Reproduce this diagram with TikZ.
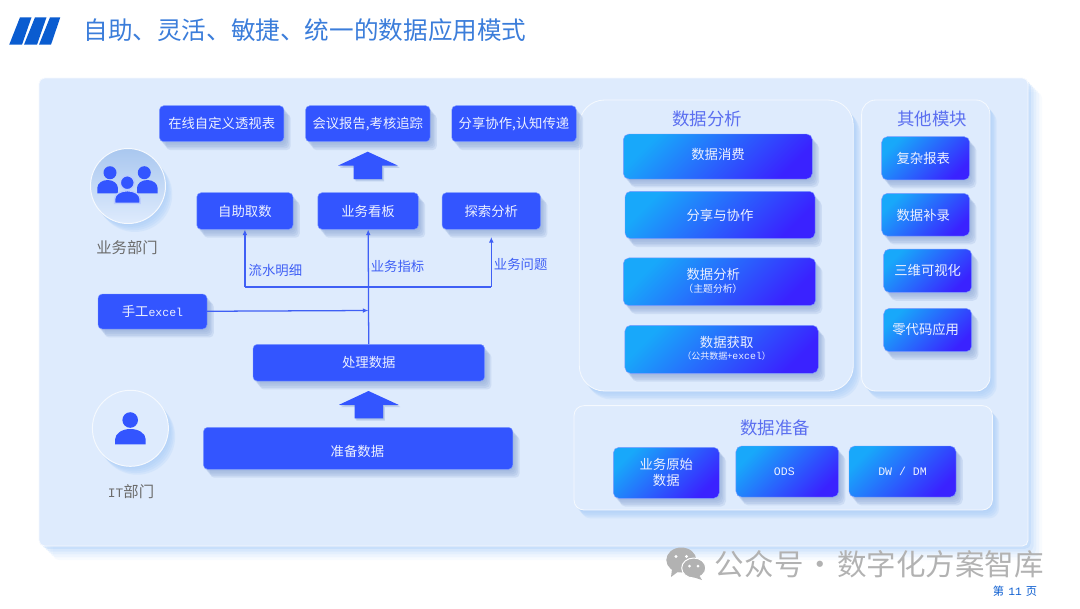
\documentclass[tikz,border=0pt]{standalone}
\usepackage{fontspec}
\setmainfont{Noto Sans CJK SC}
\setmonofont{Liberation Mono}
\usetikzlibrary{arrows.meta,shadows}
\newlength\px
\setlength\px{0.025cm}
\newcommand{\monotext}[1]{{\fontsize{8.2}{9}\selectfont\ttfamily #1}}

\begin{document}
\begin{tikzpicture}[x=\px,y=-\px,
    boxfont/.style={font=\fontsize{9.5}{11.5}\selectfont},
    softshadow/.style={
      general shadow={fill=#1,opacity=.22,shadow xshift=0.8pt,shadow yshift=-1.2pt},
      general shadow={fill=#1,opacity=.22,shadow xshift=1.8pt,shadow yshift=-2.4pt},
      general shadow={fill=#1,opacity=.22,shadow xshift=2.8pt,shadow yshift=-3.6pt},
      general shadow={fill=#1,opacity=.22,shadow xshift=3.8pt,shadow yshift=-4.8pt},
      general shadow={fill=#1,opacity=.22,shadow xshift=4.8pt,shadow yshift=-6pt}},
    wideshadow/.style={
      general shadow={fill=#1,opacity=.3,shadow xshift=2pt,shadow yshift=-2pt},
      general shadow={fill=#1,opacity=.22,shadow xshift=4pt,shadow yshift=-4pt},
      general shadow={fill=#1,opacity=.16,shadow xshift=6pt,shadow yshift=-6pt},
      general shadow={fill=#1,opacity=.12,shadow xshift=8pt,shadow yshift=-8pt},
      general shadow={fill=#1,opacity=.08,shadow xshift=10pt,shadow yshift=-10pt}},
    flatbox/.style={boxfont,text=boxtext,softshadow=shadowblue,fill=boxblue,draw=boxedge,line width=0.3pt,rounded corners=3pt,inner sep=0pt},
    gradbox/.style={boxfont,text=boxtext,softshadow=shadowblue,top color=grad1,bottom color=grad2,shading angle=45,draw=boxedge,line width=0.3pt,rounded corners=4pt,inner sep=0pt},
    boxlabel/.style={boxfont,text=boxtext,inner sep=0pt},
    sublabel/.style={font=\fontsize{7}{8}\selectfont,text=boxtext,inner sep=0pt},
    panel/.style={fill=panelblue,draw=white!70!panelblue,line width=0.6pt,inner sep=0pt},
    paneltitle/.style={font=\fontsize{12.4}{14}\selectfont,text=titleblue,inner sep=0pt},
    flowlabel/.style={boxfont,text=linkblue,inner sep=0pt},
    flow/.style={linkblue,line width=0.9pt},
    flowtip/.style={flow,-{Latex[length=1.4mm,width=1.2mm]}},
    partlabel/.style={font=\fontsize{10.9}{13}\selectfont,text=black!58,inner sep=0pt},
    role/.style={softshadow=panelshadow,circle,minimum size=75\px,inner sep=0pt,draw=white!70!panelblue,line width=0.7pt},
    bigarrow/.style={general shadow={fill=shadowblue,opacity=.4,shadow xshift=0.7pt,shadow yshift=-0.8pt},general shadow={fill=shadowblue,opacity=.4,shadow xshift=1.4pt,shadow yshift=-1.6pt},fill=boxblue},
  ]
  \definecolor{boxblue}{HTML}{3355FF}
  \definecolor{boxedge}{HTML}{7F9BFF}
  \definecolor{boxtext}{HTML}{EDF1FF}
  \definecolor{grad1}{HTML}{18A8FA}
  \definecolor{grad2}{HTML}{3A22FF}
  \definecolor{panelblue}{HTML}{DEEBFD}
  \definecolor{panelshadow}{HTML}{A8CCF8}
  \definecolor{shadowblue}{HTML}{8FA9D6}
  \definecolor{titleblue}{HTML}{5B6FF0}
  \definecolor{linkblue}{HTML}{3F5FF5}
  \definecolor{headblue}{HTML}{0A5CD0}
  \definecolor{markgrey}{HTML}{B2B2B2}
  \definecolor{roletop}{HTML}{A9C7EF}

  \useasboundingbox (0,0) rectangle (1080,608);

  \fill[headblue] (9.2,44.7) -- (22,44.7) -- (31.5,17.3) -- (20,17.3) -- cycle;
  \fill[headblue] (24,44.7) -- (37,44.7) -- (46.5,17.3) -- (35,17.3) -- cycle;
  \fill[headblue] (39,44.7) -- (51,44.7) -- (60.3,17.3) -- (50,17.3) -- cycle;
  \node[font=\fontsize{17.5}{20}\selectfont,text=headblue!80!white,inner sep=0pt] (heading) at (305,30) {自助、灵活、敏捷、统一的数据应用模式};

  \node[panel,wideshadow=panelshadow,rounded corners=4pt,minimum width=989\px,minimum height=468\px] (mainpanel) at (533.5,312) {};
  \node[panel,softshadow=panelshadow,rounded corners=18pt,minimum width=274\px,minimum height=291\px] (analysispanel) at (716.3,245.5) {};
  \node[panel,softshadow=panelshadow,rounded corners=10pt,minimum width=128.3\px,minimum height=291\px] (otherpanel) at (925.8,245.5) {};
  \node[panel,softshadow=panelshadow,rounded corners=7pt,minimum width=418.3\px,minimum height=104.3\px] (preppanel) at (783.2,457.8) {};

  \node[paneltitle] (analysistitle) at (707.3,118.7) {数据分析};
  \node[paneltitle] (othertitle) at (932,118.7) {其他模块};
  \node[paneltitle] (preptitle) at (775,428.3) {数据准备};

  \node[flatbox,minimum width=124.5\px,minimum height=36\px] (pivot) at (221.7,123.7) {在线自定义透视表};
  \node[flatbox,minimum width=124.5\px,minimum height=36\px] (meeting) at (367.8,123.7) {会议报告,考核追踪};
  \node[flatbox,minimum width=124.5\px,minimum height=36\px] (sharing) at (514,123.7) {分享协作,认知传递};

  \node[flatbox,minimum width=96.2\px,minimum height=36.6\px] (selfserve) at (244.9,211) {自助取数};
  \node[flatbox,minimum width=100.6\px,minimum height=36.6\px] (board) at (368.1,211) {业务看板};
  \node[flatbox,minimum width=98.5\px,minimum height=36.6\px] (explore) at (491.3,211) {探索分析};

  \node[flatbox,minimum width=109\px,minimum height=35\px] (excel) at (152.5,311.5) {手工\monotext{excel}};
  \node[flatbox,minimum width=231.6\px,minimum height=36.7\px] (process) at (368.8,362.7) {处理数据};
  \node[flatbox,minimum width=309.3\px,minimum height=42\px] (prepare) at (358.1,448.3) {};
  \node[boxlabel] (preparetext) at (357.4,451) {准备数据};

  \foreach \ax/\ay in {367.7/151.7,368.5/391}
  {
    \fill[bigarrow] (\ax,\ay) -- ++(30,13.8) -- ++(-15.5,0) -- ++(0,13.5) -- ++(-28.5,0) -- ++(0,-13.5) -- ++(-15.5,0) -- cycle;
  }

  \coordinate (hubleft) at (244.9,287);
  \coordinate (hubright) at (491.3,287);
  \coordinate (exploretip) at (491.3,237);
  \coordinate (merge) at (368.4,310.5);
  \draw[flow] (hubleft) -- (hubright);
  \draw[flowtip] (hubleft) -- (selfserve);
  \draw[flowtip] (hubright) -- (exploretip);
  \draw[flowtip] (process) -- (board);
  \draw[flowtip] (excel) -- (merge);

  \node[flowlabel] (detaillabel) at (275.4,270.7) {流水明细};
  \node[flowlabel] (metriclabel) at (397.5,266) {业务指标};
  \node[flowlabel] (questionlabel) at (520.7,264.3) {业务问题};

  \node[role,top color=roletop,bottom color=panelblue,shading angle=0] (business) at (128,186) {};
  \node[partlabel] (businesslabel) at (127,248) {业务部门};
  \foreach \hx/\bx in {110/107.6,144.3/147.3}
  {
    \fill[boxblue] (\hx,172.7) circle[radius=6.5\px];
    \fill[boxblue] (\bx-10.3,193.3) -- ++(0,-5.3) arc[start angle=180,end angle=0,x radius=10.3\px,y radius=8\px] -- ++(0,5.3) -- cycle;
  }
  \draw[boxblue!20!panelblue,line width=1pt,fill=boxblue] (127.4,203.3) -- ++(-12.7,0) -- ++(0,-4.6) arc[start angle=180,end angle=0,x radius=12.7\px,y radius=8\px] -- ++(0,4.6) -- cycle;
  \draw[boxblue!20!panelblue,line width=1pt,fill=boxblue] (127.3,182.7) circle[radius=7\px];

  \node[role,fill=panelblue,minimum size=76\px] (itdept) at (130.4,428.3) {};
  \node[partlabel] (itlabel) at (131,492) {{\fontsize{9.2}{11}\selectfont\ttfamily IT}部门};
  \fill[boxblue] (130.2,420) circle[radius=7.8\px];
  \fill[boxblue] (115.2,444.3) -- ++(0,-5.3) arc[start angle=180,end angle=0,x radius=15.2\px,y radius=10\px] -- ++(0,5.3) -- cycle;

  \node[gradbox,minimum width=189\px,minimum height=45\px] (consume) at (717.8,156.5) {};
  \node[boxlabel] (consumetext) at (718,154) {数据消费};
  \node[gradbox,minimum width=190\px,minimum height=47.4\px] (collab) at (720,215) {分享与协作};
  \node[gradbox,minimum width=192.4\px,minimum height=47.7\px] (analyse) at (719.5,281.8) {};
  \node[boxlabel] (analysetext) at (713.3,274.3) {数据分析};
  \node[sublabel] (analysesub) at (713,289) {（主题分析）};
  \node[gradbox,minimum width=193.3\px,minimum height=48\px] (fetch) at (721.6,349.3) {};
  \node[boxlabel] (fetchtext) at (726.7,342.3) {数据获取};
  \node[sublabel,font=\fontsize{6.4}{7.5}\selectfont] (fetchsub) at (726.7,356.3) {（公共数据+{\fontsize{7}{8}\selectfont\ttfamily excel}）};

  \node[gradbox,minimum width=88\px,minimum height=43.3\px] (complex) at (925.7,158.3) {};
  \node[boxlabel] (complextext) at (923.3,158.3) {复杂报表};
  \node[gradbox,minimum width=88\px,minimum height=42.7\px] (supplement) at (925.7,214.7) {};
  \node[boxlabel] (supplementtext) at (923.3,215) {数据补录};
  \node[gradbox,minimum width=88\px,minimum height=43.3\px] (threed) at (927.7,270.7) {三维可视化};
  \node[gradbox,minimum width=88\px,minimum height=43.3\px] (lowcode) at (927.7,330) {};
  \node[boxlabel] (lowcodetext) at (925.7,329.3) {零代码应用};

  \node[gradbox,align=center,minimum width=106\px,minimum height=51\px] (rawdata) at (666.3,472.8) {业务原始\\数据};
  \node[gradbox,minimum width=102.7\px,minimum height=51\px] (ods) at (787.3,471.5) {};
  \node[boxlabel] (odstext) at (784.3,471.7) {\monotext{ODS}};
  \node[gradbox,minimum width=107\px,minimum height=51\px] (dwdm) at (902.5,471.5) {\monotext{DW / DM}};

  \fill[markgrey] (681.3,560) ellipse[x radius=15\px,y radius=12.5\px];
  \fill[markgrey] (672,569) -- (671,577) -- (679,571) -- cycle;
  \draw[white,line width=0.7pt,fill=markgrey] (693.7,568) ellipse[x radius=12\px,y radius=10\px];
  \fill[markgrey] (699,575) -- (702,580) -- (693,577) -- cycle;
  \fill[white] (676,556.5) circle[radius=1.7\px] (686.5,556.5) circle[radius=1.7\px];
  \fill[white] (689.5,566) circle[radius=1.5\px] (698,566) circle[radius=1.5\px];
  \node[font=\fontsize{21}{24}\selectfont,text=markgrey,inner sep=0pt] (watermark) at (879.5,564) {公众号\kern1.5pt·\kern1.5pt数字化方案智库};
  \node[font=\fontsize{8}{9}\selectfont,text=headblue,inner sep=0pt] (pagenum) at (1015,591) {第\kern3pt{\ttfamily 11}\kern3pt页};
\end{tikzpicture}
\end{document}
